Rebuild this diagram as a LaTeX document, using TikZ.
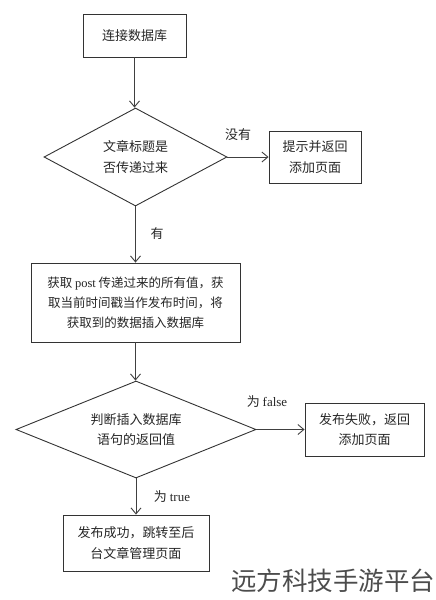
\documentclass[tikz,border=0pt]{standalone}
\usepackage{fontspec}
\setmainfont{Liberation Serif}
\newfontfamily\cjk{Noto Sans CJK SC}
\usetikzlibrary{shapes.geometric,arrows.meta}
\begin{document}
\begin{tikzpicture}[x=1pt,y=-1pt,
  every node/.style={font=\cjk\fontsize{13}{20.5}\selectfont, text=black!85},
  box/.style={draw=black!80, line width=0.9pt, rectangle, inner sep=0pt, align=center},
  dia/.style={draw=black!80, line width=0.9pt, diamond, inner sep=0pt, align=center},
  conn/.style={draw=black!75, line width=0.9pt, -{Straight Barb[length=6pt,width=10pt]}},
  lbl/.style={inner sep=0pt}]
\useasboundingbox (0,0) rectangle (436,600);
\node[box, minimum width=103pt, minimum height=43pt] (b1) at (134.5,35.5) {连接数据库};
\node[dia, minimum width=183pt, minimum height=98pt, aspect=1.87] (d1) at (135.5,157) {文章标题是\\否传递过来};
\node[box, minimum width=92pt, minimum height=52pt] (b2) at (315,157) {提示并返回\\添加页面};
\node[box, minimum width=209pt, minimum height=79pt, font=\cjk\fontsize{12.5}{20}\selectfont] (b3) at (135.5,302.5) {获取 {\rmfamily post} 传递过来的所有值，获\\取当前时间戳当作发布时间，将\\获取到的数据插入数据库};
\node[dia, minimum width=240pt, minimum height=97pt, aspect=2.47] (d2) at (136,429.5) {判断插入数据库\\语句的返回值};
\node[box, minimum width=119pt, minimum height=53pt] (b4) at (364.5,429.5) {发布失败，返回\\添加页面};
\node[box, minimum width=146pt, minimum height=56pt] (b5) at (136,543) {发布成功，跳转至后\\台文章管理页面};
\draw[conn] (b1.south) -- (b1.south |- d1.north);
\draw[conn] (d1.east) -- (b2.west);
\draw[conn] (d1.south) -- (d1.south |- b3.north);
\draw[conn] (b3.south) -- (b3.south |- d2.north);
\draw[conn] (d2.east) -- (b4.west);
\draw[conn] (d2.south) -- (d2.south |- b5.north);
\node[lbl] (l1) at (238,135) {没有};
\node[lbl] (l2) at (157,234) {有};
\node[lbl] (l3) at (267,402) {为 {\rmfamily false}};
\node[lbl] (l4) at (172,497) {为 {\rmfamily true}};
\node[inner sep=0pt, font=\cjk\fontsize{25.5}{28}\selectfont, text=black!70] (wm) at (333,581) {远方科技手游平台};
\end{tikzpicture}
\end{document}
